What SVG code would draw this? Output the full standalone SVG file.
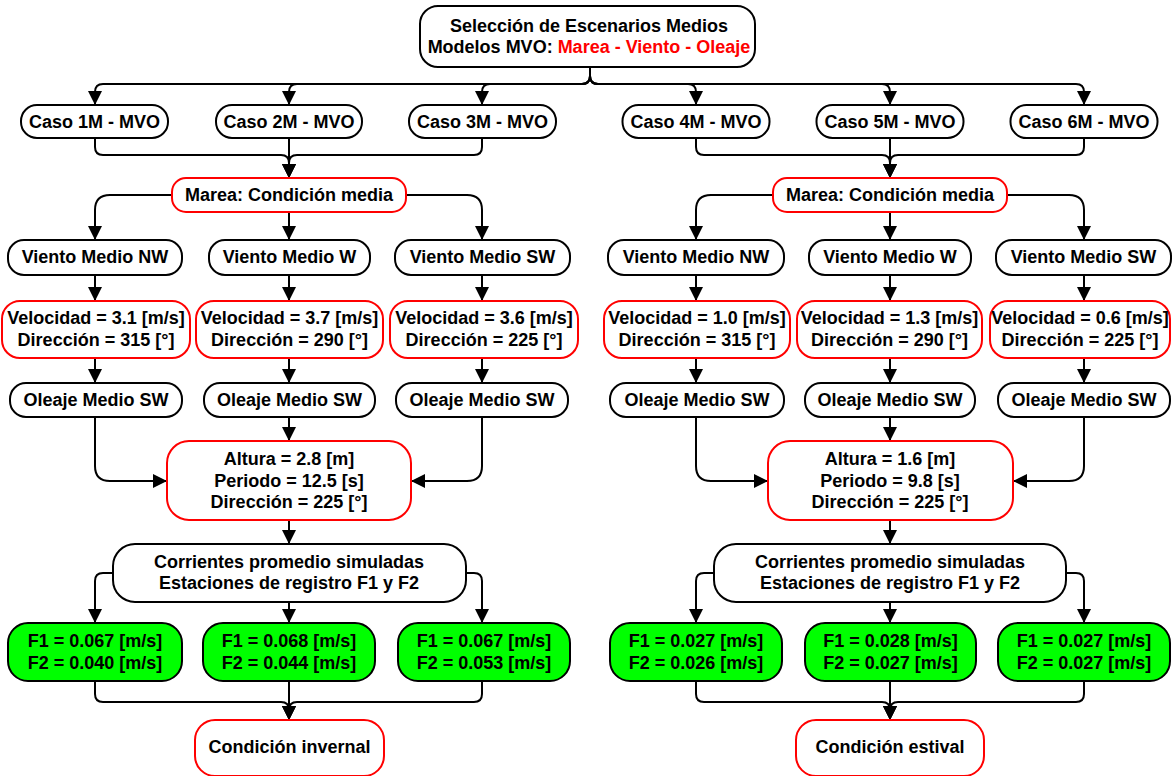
<svg xmlns="http://www.w3.org/2000/svg" width="1173" height="776" viewBox="0 0 1173 776">
  <style>
    text { font-family: "Liberation Sans", Arial, sans-serif; font-weight: bold; font-size: 18px; fill: #000; text-anchor: middle; }
    .red { fill: #ff0000; }
    .box { fill: #fff; stroke: #000; stroke-width: 2; }
    .rbox { fill: #fff; stroke: #ff0000; stroke-width: 2; }
    .gbox { fill: #00ff00; stroke: #000; stroke-width: 2; }
    .edge { fill: none; stroke: #000; stroke-width: 2; marker-end: url(#arrow); }
  </style>
  <defs>
    <marker id="arrow" markerUnits="userSpaceOnUse" markerWidth="14" markerHeight="14" refX="14" refY="7" orient="auto">
      <path d="M0,0 L14,7 L0,14 z" fill="#000"/>
    </marker>
  </defs>
  <rect width="1173" height="776" fill="#fff"/>

  <!-- connectors -->
  <g id="connectors">
    <!-- root to cases -->
    <path class="edge" d="M590,67 V76 Q590,84 582,84 H103 Q95,84 95,92 V105"/>
    <path class="edge" d="M590,67 V76 Q590,84 582,84 H297 Q289,84 289,92 V105"/>
    <path class="edge" d="M590,67 V76 Q590,84 582,84 H490 Q482,84 482,92 V105"/>
    <path class="edge" d="M590,67 V76 Q590,84 598,84 H688 Q696,84 696,92 V105"/>
    <path class="edge" d="M590,67 V76 Q590,84 598,84 H882 Q890,84 890,92 V105"/>
    <path class="edge" d="M590,67 V76 Q590,84 598,84 H1076 Q1084,84 1084,92 V105"/>
    <!-- cases to tide -->
    <path class="edge" d="M95,138 V147 Q95,155 103,155 H281 Q289,155 289,163 V178"/>
    <path class="edge" d="M289,138 V178"/>
    <path class="edge" d="M482,138 V147 Q482,155 474,155 H297 Q289,155 289,163 V178"/>
    <path class="edge" d="M696,138 V147 Q696,155 704,155 H882 Q890,155 890,163 V178"/>
    <path class="edge" d="M890,138 V178"/>
    <path class="edge" d="M1084,138 V147 Q1084,155 1076,155 H898 Q890,155 890,163 V178"/>
    <!-- tide to wind -->
    <path class="edge" d="M172,195 H110 Q95,195 95,210 V240"/>
    <path class="edge" d="M289,212 V240"/>
    <path class="edge" d="M406,195 H467 Q482,195 482,210 V240"/>
    <path class="edge" d="M773,195 H711 Q696,195 696,210 V240"/>
    <path class="edge" d="M890,212 V240"/>
    <path class="edge" d="M1007,195 H1069 Q1084,195 1084,210 V240"/>
    <!-- wind to wind values -->
    <path class="edge" d="M95,275 V301"/>
    <path class="edge" d="M289,275 V301"/>
    <path class="edge" d="M482,275 V301"/>
    <path class="edge" d="M696,275 V301"/>
    <path class="edge" d="M890,275 V301"/>
    <path class="edge" d="M1084,275 V301"/>
    <!-- wind values to waves -->
    <path class="edge" d="M95,358 V383"/>
    <path class="edge" d="M289,358 V383"/>
    <path class="edge" d="M482,358 V383"/>
    <path class="edge" d="M696,358 V383"/>
    <path class="edge" d="M890,358 V383"/>
    <path class="edge" d="M1084,358 V383"/>
    <!-- waves to wave values -->
    <path class="edge" d="M95,417 V466 Q95,481 110,481 H167"/>
    <path class="edge" d="M289,417 V441"/>
    <path class="edge" d="M482,417 V466 Q482,481 467,481 H411"/>
    <path class="edge" d="M696,417 V466 Q696,481 711,481 H768"/>
    <path class="edge" d="M890,417 V441"/>
    <path class="edge" d="M1084,417 V466 Q1084,481 1069,481 H1013"/>
    <!-- wave values to currents -->
    <path class="edge" d="M289,520 V544"/>
    <path class="edge" d="M890,520 V544"/>
    <!-- currents to stations -->
    <path class="edge" d="M113,573 H103 Q95,573 95,581 V623"/>
    <path class="edge" d="M289,602 V623"/>
    <path class="edge" d="M466,573 H474 Q482,573 482,581 V623"/>
    <path class="edge" d="M714,573 H704 Q696,573 696,581 V623"/>
    <path class="edge" d="M890,602 V623"/>
    <path class="edge" d="M1066,573 H1076 Q1084,573 1084,581 V623"/>
    <!-- stations to season -->
    <path class="edge" d="M95,681 V694 Q95,702 103,702 H281 Q289,702 289,710 V720"/>
    <path class="edge" d="M289,681 V720"/>
    <path class="edge" d="M482,681 V694 Q482,702 474,702 H297 Q289,702 289,710 V720"/>
    <path class="edge" d="M696,681 V694 Q696,702 704,702 H882 Q890,702 890,710 V720"/>
    <path class="edge" d="M890,681 V720"/>
    <path class="edge" d="M1084,681 V694 Q1084,702 1076,702 H898 Q890,702 890,710 V720"/>
  </g>

  <!-- root -->
  <g id="root">
    <rect class="box" x="420" y="6" width="335" height="61" rx="18"/>
    <text x="589" y="32">Selección de Escenarios Medios</text>
    <text x="589" y="53">Modelos MVO: <tspan class="red">Marea - Viento - Oleaje</tspan></text>
  </g>

  <!-- cases -->
  <g id="caso1"><rect class="box" x="21" y="105" width="147" height="33" rx="16"/><text x="94.5" y="128">Caso 1M - MVO</text></g>
  <g id="caso2"><rect class="box" x="216" y="105" width="146" height="33" rx="16"/><text x="289" y="128">Caso 2M - MVO</text></g>
  <g id="caso3"><rect class="box" x="409" y="105" width="147" height="33" rx="16"/><text x="482.5" y="128">Caso 3M - MVO</text></g>
  <g id="caso4"><rect class="box" x="622.5" y="105" width="147" height="33" rx="16"/><text x="696" y="128">Caso 4M - MVO</text></g>
  <g id="caso5"><rect class="box" x="816.5" y="105" width="147" height="33" rx="16"/><text x="890" y="128">Caso 5M - MVO</text></g>
  <g id="caso6"><rect class="box" x="1010.5" y="105" width="147" height="33" rx="16"/><text x="1084" y="128">Caso 6M - MVO</text></g>

  <!-- tide -->
  <g id="marea-inv"><rect class="rbox" x="172" y="178" width="234" height="34" rx="14"/><text x="289" y="201">Marea: Condición media</text></g>
  <g id="marea-est"><rect class="rbox" x="773" y="178" width="234" height="34" rx="14"/><text x="890" y="201">Marea: Condición media</text></g>

  <!-- winds -->
  <g id="viento-nw-inv"><rect class="box" x="8" y="240" width="174" height="35" rx="16"/><text x="95" y="263">Viento Medio NW</text></g>
  <g id="viento-w-inv"><rect class="box" x="209" y="240" width="161" height="35" rx="16"/><text x="289.5" y="263">Viento Medio W</text></g>
  <g id="viento-sw-inv"><rect class="box" x="395" y="240" width="175" height="35" rx="16"/><text x="482.5" y="263">Viento Medio SW</text></g>
  <g id="viento-nw-est"><rect class="box" x="608" y="240" width="176" height="35" rx="16"/><text x="696" y="263">Viento Medio NW</text></g>
  <g id="viento-w-est"><rect class="box" x="809" y="240" width="162" height="35" rx="16"/><text x="890" y="263">Viento Medio W</text></g>
  <g id="viento-sw-est"><rect class="box" x="996" y="240" width="175" height="35" rx="16"/><text x="1083.5" y="263">Viento Medio SW</text></g>

  <!-- wind values -->
  <g id="vel-nw-inv"><rect class="rbox" x="2" y="301" width="188" height="57" rx="18"/><text x="96" y="324">Velocidad = 3.1 [m/s]</text><text x="96" y="346">Dirección = 315 [°]</text></g>
  <g id="vel-w-inv"><rect class="rbox" x="196" y="301" width="187" height="57" rx="18"/><text x="289.5" y="324">Velocidad = 3.7 [m/s]</text><text x="289.5" y="346">Dirección = 290 [°]</text></g>
  <g id="vel-sw-inv"><rect class="rbox" x="390" y="301" width="188" height="57" rx="18"/><text x="484" y="324">Velocidad = 3.6 [m/s]</text><text x="484" y="346">Dirección = 225 [°]</text></g>
  <g id="vel-nw-est"><rect class="rbox" x="604" y="301" width="186" height="57" rx="18"/><text x="697" y="324">Velocidad = 1.0 [m/s]</text><text x="697" y="346">Dirección = 315 [°]</text></g>
  <g id="vel-w-est"><rect class="rbox" x="797" y="301" width="185" height="57" rx="18"/><text x="889.5" y="324">Velocidad = 1.3 [m/s]</text><text x="889.5" y="346">Dirección = 290 [°]</text></g>
  <g id="vel-sw-est"><rect class="rbox" x="990" y="301" width="180" height="57" rx="18"/><text x="1080" y="324">Velocidad = 0.6 [m/s]</text><text x="1080" y="346">Dirección = 225 [°]</text></g>

  <!-- waves -->
  <g id="oleaje1-inv"><rect class="box" x="10" y="383" width="172" height="34" rx="16"/><text x="96" y="406">Oleaje Medio SW</text></g>
  <g id="oleaje2-inv"><rect class="box" x="204" y="383" width="171" height="34" rx="16"/><text x="289.5" y="406">Oleaje Medio SW</text></g>
  <g id="oleaje3-inv"><rect class="box" x="396" y="383" width="172" height="34" rx="16"/><text x="482" y="406">Oleaje Medio SW</text></g>
  <g id="oleaje1-est"><rect class="box" x="610" y="383" width="174" height="34" rx="16"/><text x="697" y="406">Oleaje Medio SW</text></g>
  <g id="oleaje2-est"><rect class="box" x="805" y="383" width="170" height="34" rx="16"/><text x="890" y="406">Oleaje Medio SW</text></g>
  <g id="oleaje3-est"><rect class="box" x="998" y="383" width="172" height="34" rx="16"/><text x="1084" y="406">Oleaje Medio SW</text></g>

  <!-- wave values -->
  <g id="altura-inv"><rect class="rbox" x="167" y="441" width="244" height="79" rx="22"/><text x="289" y="465">Altura = 2.8 [m]</text><text x="289" y="487">Periodo = 12.5 [s]</text><text x="289" y="508">Dirección = 225 [°]</text></g>
  <g id="altura-est"><rect class="rbox" x="768" y="441" width="245" height="79" rx="22"/><text x="890" y="465">Altura = 1.6 [m]</text><text x="890" y="487">Periodo = 9.8 [s]</text><text x="890" y="508">Dirección = 225 [°]</text></g>

  <!-- currents -->
  <g id="corrientes-inv"><rect class="box" x="113" y="544" width="353" height="58" rx="22"/><text x="289" y="568">Corrientes promedio simuladas</text><text x="289" y="589">Estaciones de registro F1 y F2</text></g>
  <g id="corrientes-est"><rect class="box" x="714" y="544" width="352" height="58" rx="22"/><text x="890" y="568">Corrientes promedio simuladas</text><text x="890" y="589">Estaciones de registro F1 y F2</text></g>

  <!-- stations -->
  <g id="f1-inv"><rect class="gbox" x="8" y="623" width="174" height="58" rx="20"/><text x="95" y="647">F1 = 0.067 [m/s]</text><text x="95" y="669">F2 = 0.040 [m/s]</text></g>
  <g id="f2-inv"><rect class="gbox" x="203" y="623" width="172" height="58" rx="20"/><text x="289" y="647">F1 = 0.068 [m/s]</text><text x="289" y="669">F2 = 0.044 [m/s]</text></g>
  <g id="f3-inv"><rect class="gbox" x="398" y="623" width="172" height="58" rx="20"/><text x="484" y="647">F1 = 0.067 [m/s]</text><text x="484" y="669">F2 = 0.053 [m/s]</text></g>
  <g id="f1-est"><rect class="gbox" x="610" y="623" width="172" height="58" rx="20"/><text x="696" y="647">F1 = 0.027 [m/s]</text><text x="696" y="669">F2 = 0.026 [m/s]</text></g>
  <g id="f2-est"><rect class="gbox" x="805" y="623" width="171" height="58" rx="20"/><text x="890.5" y="647">F1 = 0.028 [m/s]</text><text x="890.5" y="669">F2 = 0.027 [m/s]</text></g>
  <g id="f3-est"><rect class="gbox" x="998" y="623" width="172" height="58" rx="20"/><text x="1084" y="647">F1 = 0.027 [m/s]</text><text x="1084" y="669">F2 = 0.027 [m/s]</text></g>

  <!-- seasons -->
  <g id="invernal"><rect class="rbox" x="195" y="720" width="189" height="56" rx="20"/><text x="289.5" y="753">Condición invernal</text></g>
  <g id="estival"><rect class="rbox" x="796" y="720" width="188" height="56" rx="20"/><text x="890" y="753">Condición estival</text></g>
</svg>
